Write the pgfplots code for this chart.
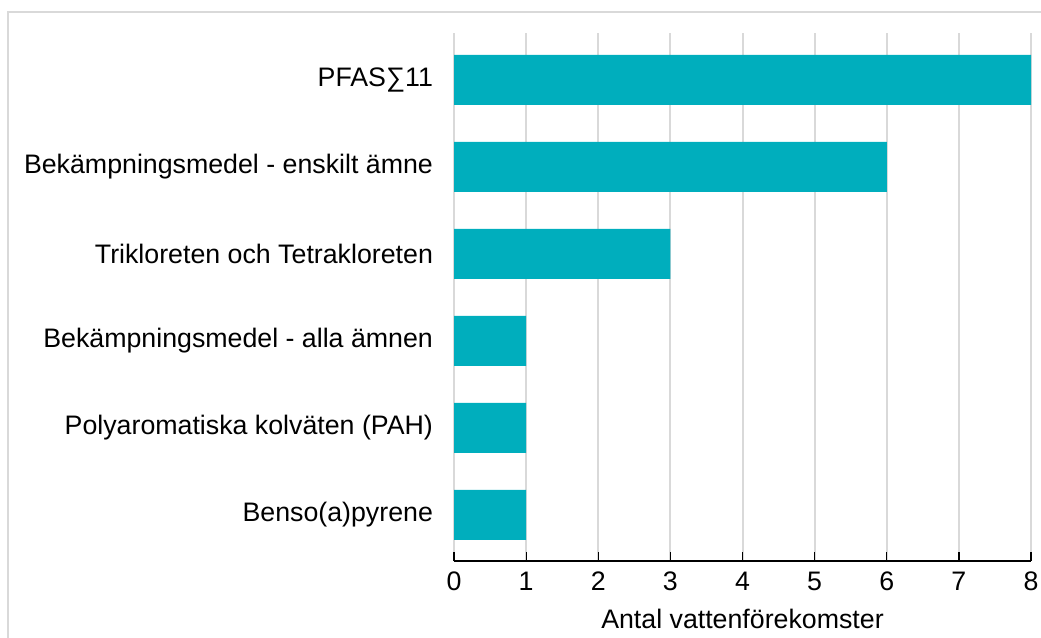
\documentclass[border=0pt]{standalone}
\usepackage{fontspec}
\setmainfont{Liberation Sans}
\usepackage{pgfplots}
\pgfplotsset{compat=1.18}

\definecolor{barteal}{RGB}{0,174,189}
\definecolor{gridgray}{RGB}{217,217,217}

\begin{document}
\begin{tikzpicture}
% picture frame, 1px = 0.4pt, axis lower left at origin
\path[use as bounding box] (-181.6pt,-30.4pt) rectangle (234.8pt,224.4pt);
\draw[gridgray, line width=0.8pt] (-178.4pt,-31pt) -- (-178.4pt,219.6pt) -- (236pt,219.6pt);
\begin{axis}[
    at={(0pt,0pt)}, anchor=south west,
    scale only axis,
    width=230.8pt, height=211.2pt,
    xbar, bar width=20pt,
    xmin=0, xmax=8,
    ymin=-0.53, ymax=5.54,
    xtick={0,...,8},
    ytick={0,...,5},
    yticklabels={Benso(a)pyrene, Polyaromatiska kolväten (PAH), Bekämpningsmedel - alla ämnen, Trikloreten och Tetrakloreten, Bekämpningsmedel - enskilt ämne, PFAS∑11},
    axis x line*=bottom,
    axis y line*=left,
    y axis line style={draw=none},
    ytick style={draw=none},
    x axis line style={black, line width=0.6pt, -},
    xtick style={black, line width=0.5pt},
    xtick align=inside,
    major tick length=3.6pt,
    xmajorgrids, grid style={gridgray, line width=0.8pt},
    tick label style={font=\fontsize{10.7pt}{12pt}\selectfont},
    /pgf/number format/assume math mode=true,
    xticklabel style={yshift=-0.8pt},
    yticklabel style={xshift=-1.3pt, anchor=east},
    xlabel={Antal vattenförekomster},
    xlabel style={font=\fontsize{10.7pt}{12pt}\selectfont, yshift=-0.6pt},
]
\addplot[fill=barteal, draw=none] coordinates {
    (1,0) (1,1) (1,2) (3,3) (6,4) (8,5)
};
\end{axis}
\end{tikzpicture}
\end{document}
